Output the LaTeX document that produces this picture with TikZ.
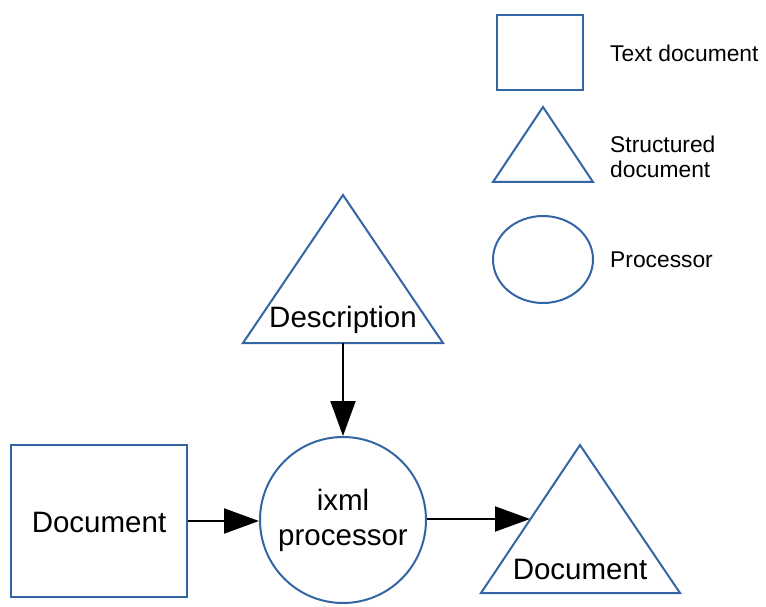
\documentclass[tikz,border=0pt]{standalone}
\usepackage{fontspec}
\setmainfont{Liberation Sans}
\usetikzlibrary{arrows.meta,shapes.geometric}
\definecolor{shapeblue}{HTML}{3465A4}
\begin{document}
\begin{tikzpicture}[x=1pt,y=-1pt,
  shp/.style={draw=shapeblue,line width=2pt,fill=white,inner sep=0pt},
  big/.style={font=\fontsize{29.5}{35}\selectfont,align=center,inner sep=0pt},
  lgd/.style={font=\fontsize{22.8}{25}\selectfont,align=left,anchor=west,inner sep=0pt},
  arr/.style={line width=2pt,-{Triangle[length=35pt,width=25pt]}}]
\useasboundingbox (0,0) rectangle (766,607);
% legend
\node[shp,minimum width=86pt,minimum height=75pt] (lsq) at (540,52.5) {};
\draw[shp,line join=miter] (543,107) -- (593,182) -- (493,182) -- cycle;
\coordinate (ltri) at (543,145);
\node[shp,ellipse,minimum width=100pt,minimum height=87pt] (lell) at (543,259.5) {};
\node[lgd] (t1) at (610,53) {Text document};
\node[lgd] (t2) at (610,157) {Structured\\document};
\node[lgd] (t3) at (610,260) {Processor};
% description triangle
\draw[shp] (343,195) -- (443,343) -- (243,343) -- cycle;
\node[big] (desc) at (343,320) {Description};
\coordinate (descbase) at (343,343);
% document box
\node[shp,minimum width=176pt,minimum height=152pt] (doc) at (99,521) {};
\node[big] (doct) at (99,522) {Document};
% processor
\node[shp,circle,minimum size=166pt] (proc) at (343,520) {};
\node[big] (proct) at (343,520) {ixml\\processor};
% output triangle
\draw[shp] (580,445) -- (680,593) -- (481,593) -- cycle;
\node[big] (outt) at (580,569) {Document};
\coordinate (outleft) at (530,519);
% connectors
\draw[arr] (descbase) -- (proc.north);
\draw[arr] (doc.east) -- (proc.west |- doc.east);
\draw[arr] (proc.east |- outleft) -- (outleft);
\end{tikzpicture}
\end{document}
